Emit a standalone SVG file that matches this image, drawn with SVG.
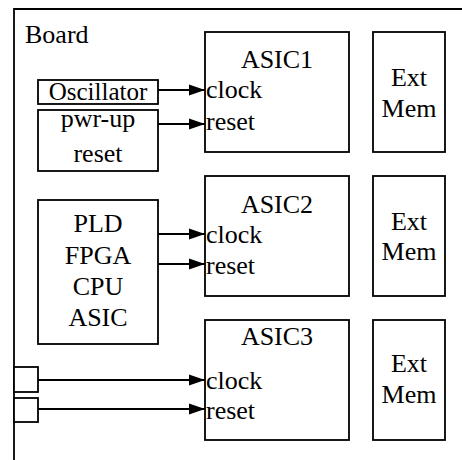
<svg xmlns="http://www.w3.org/2000/svg" width="462" height="460" viewBox="0 0 462 460">
  <style>
    .box { fill: #fff; stroke: #000; stroke-width: 1.8; }
    .wire { fill: none; stroke: #000; stroke-width: 1.8; }
    text { font-family: "Liberation Serif", "Times New Roman", serif; font-size: 26px; fill: #000; }
    .c { text-anchor: middle; }
  </style>
  <defs>
    <marker id="arrow" markerUnits="userSpaceOnUse" markerWidth="16" markerHeight="12" refX="16" refY="6" orient="auto">
      <path d="M0,0.5 L16,6 L0,11.5 z" fill="#000"/>
    </marker>
  </defs>

  <rect width="462" height="460" fill="#fff"/>

  <!-- board outline (runs off the right and bottom edges) -->
  <g id="board">
    <path class="wire" d="M14,462 V9 H464"/>
    <text x="25" y="43">Board</text>
  </g>

  <!-- clock / reset sources -->
  <g id="oscillator">
    <rect class="box" x="38" y="80" width="120" height="24"/>
    <text class="c" x="98" y="100" style="font-size:25px">Oscillator</text>
  </g>
  <g id="pwrup-reset">
    <rect class="box" x="38" y="110" width="120" height="61"/>
    <text class="c" x="98" y="127">pwr-up</text>
    <text class="c" x="98" y="162">reset</text>
  </g>
  <g id="pld">
    <rect class="box" x="38" y="200" width="120" height="144"/>
    <text class="c" x="98" y="232">PLD</text>
    <text class="c" x="98" y="264">FPGA</text>
    <text class="c" x="98" y="295">CPU</text>
    <text class="c" x="98" y="326">ASIC</text>
  </g>
  <g id="pin-clock">
    <rect class="box" x="14" y="367" width="24" height="25"/>
  </g>
  <g id="pin-reset">
    <rect class="box" x="14" y="398" width="24" height="24"/>
  </g>

  <!-- ASICs -->
  <g id="asic1">
    <rect class="box" x="205" y="32" width="144" height="120"/>
    <text class="c" x="277" y="68">ASIC1</text>
    <text x="206" y="98">clock</text>
    <text x="206" y="130">reset</text>
  </g>
  <g id="asic2">
    <rect class="box" x="205" y="176" width="144" height="120"/>
    <text class="c" x="277" y="213">ASIC2</text>
    <text x="206" y="243">clock</text>
    <text x="206" y="274">reset</text>
  </g>
  <g id="asic3">
    <rect class="box" x="205" y="320" width="144" height="120"/>
    <text class="c" x="277" y="345">ASIC3</text>
    <text x="206" y="389">clock</text>
    <text x="206" y="419">reset</text>
  </g>

  <!-- external memories -->
  <g id="extmem1">
    <rect class="box" x="373" y="32" width="72" height="120"/>
    <text class="c" x="409" y="86">Ext</text>
    <text class="c" x="409" y="117">Mem</text>
  </g>
  <g id="extmem2">
    <rect class="box" x="373" y="176" width="72" height="120"/>
    <text class="c" x="409" y="230">Ext</text>
    <text class="c" x="409" y="260">Mem</text>
  </g>
  <g id="extmem3">
    <rect class="box" x="373" y="320" width="72" height="120"/>
    <text class="c" x="409" y="372">Ext</text>
    <text class="c" x="409" y="403">Mem</text>
  </g>

  <!-- connectors -->
  <g id="connectors">
    <line class="wire" x1="158" y1="90" x2="205" y2="90" marker-end="url(#arrow)"/>
    <line class="wire" x1="158" y1="124" x2="205" y2="124" marker-end="url(#arrow)"/>
    <line class="wire" x1="158" y1="234" x2="205" y2="234" marker-end="url(#arrow)"/>
    <line class="wire" x1="158" y1="264" x2="205" y2="264" marker-end="url(#arrow)"/>
    <line class="wire" x1="38" y1="380" x2="205" y2="380" marker-end="url(#arrow)"/>
    <line class="wire" x1="38" y1="409" x2="205" y2="409" marker-end="url(#arrow)"/>
  </g>
</svg>
